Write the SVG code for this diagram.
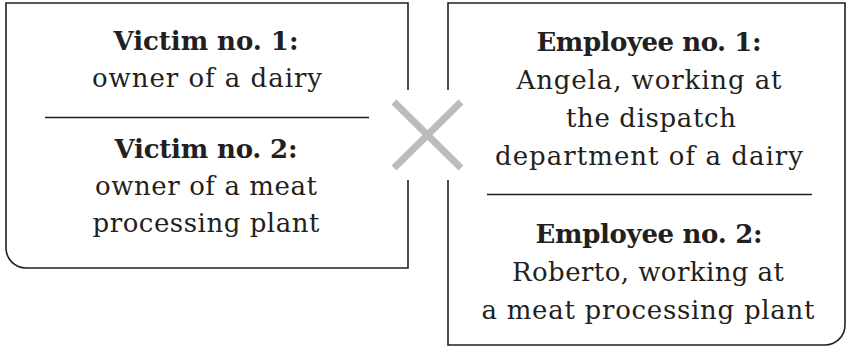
<svg xmlns="http://www.w3.org/2000/svg" width="847" height="347" viewBox="0 0 847 347">
<style>
.box{fill:none;stroke:#231f20;stroke-width:1.6}
.sep{stroke:#231f20;stroke-width:1.3}
text{font-family:"DejaVu Serif","Liberation Serif",serif;font-size:26px;fill:#231f20;text-anchor:middle}
.b{font-weight:bold}
.x{stroke:#bcbcbe;stroke-width:7;fill:none}
</style>
<rect width="847" height="347" fill="#fff"/>
<g id="victims">
<path class="box" d="M408,90 V3 H6 V248 A20,20 0 0 0 26,268 H408 V180"/>
<text class="b" x="206" y="50" textLength="185" lengthAdjust="spacing">Victim no. 1:</text>
<text x="207" y="87" textLength="230" lengthAdjust="spacing">owner of a dairy</text>
<line class="sep" x1="45" y1="117.5" x2="369" y2="117.5"/>
<text class="b" x="206" y="158" textLength="183" lengthAdjust="spacing">Victim no. 2:</text>
<text x="206" y="195" textLength="222" lengthAdjust="spacing">owner of a meat</text>
<text x="206" y="232" textLength="227" lengthAdjust="spacing">processing plant</text>
</g>
<g id="employees">
<path class="box" d="M448,90 V3 H845 V325 A20,20 0 0 1 825,345 H448 V180"/>
<text class="b" x="649" y="51" textLength="225" lengthAdjust="spacing">Employee no. 1:</text>
<text x="649" y="89" textLength="265" lengthAdjust="spacing">Angela, working at</text>
<text x="651" y="127" textLength="170" lengthAdjust="spacing">the dispatch</text>
<text x="649" y="165" textLength="308" lengthAdjust="spacing">department of a dairy</text>
<line class="sep" x1="487" y1="194.5" x2="812" y2="194.5"/>
<text class="b" x="649" y="243" textLength="227" lengthAdjust="spacing">Employee no. 2:</text>
<text x="648" y="281" textLength="272" lengthAdjust="spacing">Roberto, working at</text>
<text x="648" y="319" textLength="333" lengthAdjust="spacing">a meat processing plant</text>
</g>
<g id="connectors">
<path class="x" d="M394,102 L461,168 M461,102 L394,168"/>
</g>
</svg>
